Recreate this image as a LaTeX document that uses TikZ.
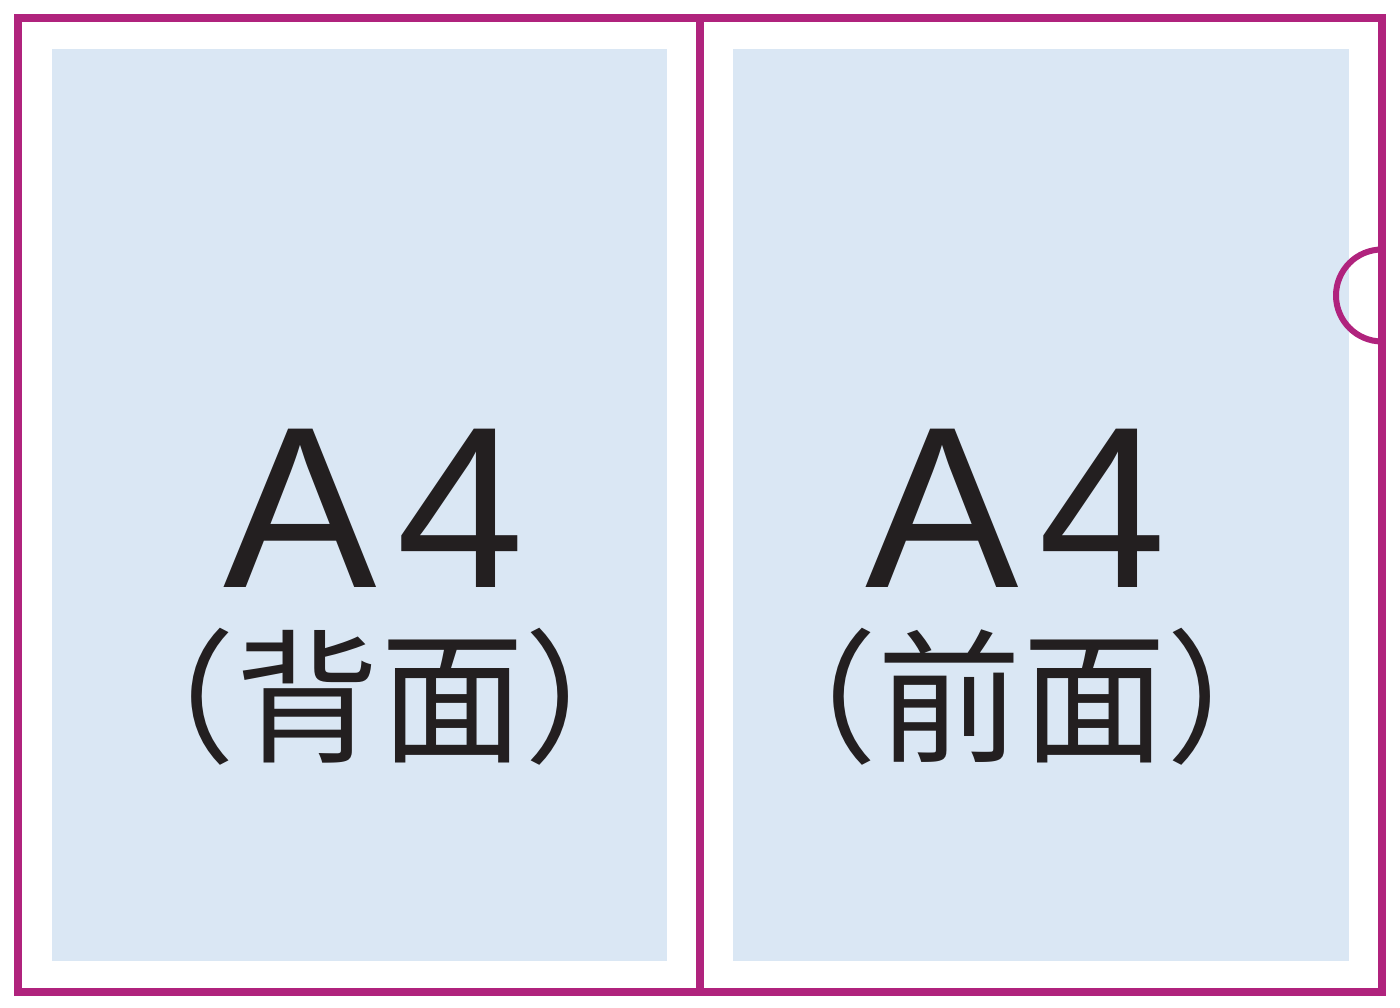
\documentclass[tikz,border=0pt]{standalone}
\usepackage{fontspec}
\usepackage{tikz}
\newfontfamily\latinfont{Liberation Sans}
\newfontfamily\cjk{Noto Sans CJK JP}
\definecolor{M}{RGB}{176, 35, 125}
\definecolor{LB}{RGB}{218, 231, 244}
\definecolor{K}{RGB}{35, 31, 32}

\begin{document}
\begin{tikzpicture}
  \useasboundingbox (0,0) rectangle (14,10.08);
  \fill[color=LB] (0.52,0.47) rectangle (6.67,9.59);
  \fill[color=LB] (7.33,0.47) rectangle (13.49,9.59);
  \draw[M, line width=0.08cm] (0.18,0.16) rectangle (13.82,9.90);
  \draw[M, line width=0.08cm] (7.00,0.16) -- (7.00,9.90);
  \draw[M, line width=0.06cm] (13.82,7.585) arc (90:270:0.46);
  \node[K, anchor=base, inner sep=0] (backsize) at (3.74,4.20) {\latinfont\fontsize{65.5}{65.5}\selectfont A\kern0.2cm 4};
  \node[K, inner sep=0] (backname) at (3.80,3.11) {\cjk\fontsize{41}{41}\selectfont （背面）};
  \node[K, anchor=base, inner sep=0] (frontsize) at (10.16,4.20) {\latinfont\fontsize{65.5}{65.5}\selectfont A\kern0.2cm 4};
  \node[K, inner sep=0] (frontname) at (10.22,3.11) {\cjk\fontsize{41}{41}\selectfont （前面）};
\end{tikzpicture}
\end{document}
